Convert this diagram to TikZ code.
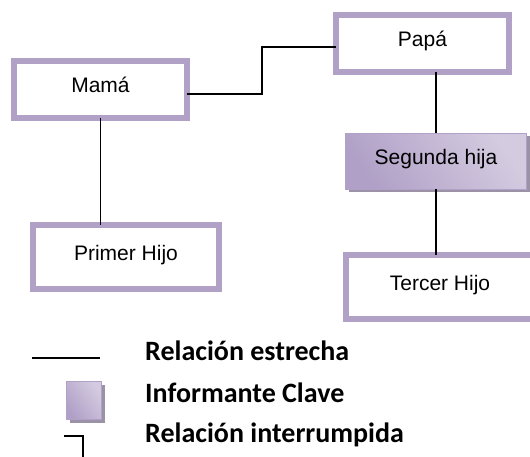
\documentclass[tikz,border=0pt]{standalone}
\usepackage{fontspec}
\setmainfont{Liberation Sans}
\newfontfamily\leyendafont{Carlito}
\usepackage{tikz}
\usetikzlibrary{calc,shadows}
\definecolor{lila}{RGB}{178,161,199}
\definecolor{lilaclaro}{RGB}{236,232,243}
\definecolor{lilaoscuro}{RGB}{176,160,199}
\definecolor{sombra}{RGB}{155,146,168}
\begin{document}
\begin{tikzpicture}[x=1pt,y=-1pt,
  persona/.style={draw=lila,line width=6pt,fill=white,inner sep=0pt,outer sep=0pt,
    font=\fontsize{21}{25}\selectfont,text height=15pt,text depth=9pt},
  clave/.style={draw=lila,line width=0.8pt,inner sep=0pt,outer sep=0pt,
    left color=lilaoscuro,middle color=lilaclaro,right color=lila!55!white,shading angle=125,
    drop shadow={shadow xshift=3pt,shadow yshift=-3pt,fill=sombra,opacity=1}},
  rel/.style={line width=1.3pt},
  leyenda/.style={anchor=base west,inner sep=0pt,font=\leyendafont\bfseries\fontsize{28}{32}\selectfont}]
\clip (0,0) rectangle (530,457);
\node[persona,minimum width=173pt,minimum height=57pt] (mama) at (100.5,89.5) {Mamá};
\node[persona,minimum width=173pt,minimum height=57pt] (papa) at (422.5,43.5) {Papá};
\node[persona,minimum width=186pt,minimum height=64pt] (primer) at (126,257) {Primer Hijo};
\node[clave,minimum width=181pt,minimum height=56pt,font=\fontsize{21}{25}\selectfont,text height=15pt,text depth=9pt] (segunda) at (436,161.5) {Segunda hija};
\node[persona,minimum width=188pt,minimum height=64pt] (tercer) at (440,287) {Tercer Hijo};
\draw[rel] ([yshift=-4.5pt]mama.east) -- ++(75,0) |- ([yshift=-3.5pt]papa.west);
\draw[rel] (mama.south) -- (mama.south |- primer.north);
\draw[rel] (segunda.north) -- (segunda.north |- papa.south);
\draw[rel] (segunda.south) -- (segunda.south |- tercer.north);
\coordinate (l1a) at (32,358);
\coordinate (l1b) at (100,358);
\draw[rel] (l1a) -- (l1b);
\node[clave,minimum width=35pt,minimum height=38pt] (cuadro) at (84,400.5) {};
\coordinate (l3a) at (64,436);
\coordinate (l3b) at (83,436);
\coordinate (l3c) at (83,460);
\draw[rel] (l3a) -- (l3b) -- (l3c);
\node[leyenda] (estrecha) at (145,360) {Relación estrecha};
\node[leyenda] (informante) at (145,402) {Informante Clave};
\node[leyenda] (interrumpida) at (145,442) {Relación interrumpida};
\end{tikzpicture}
\end{document}
